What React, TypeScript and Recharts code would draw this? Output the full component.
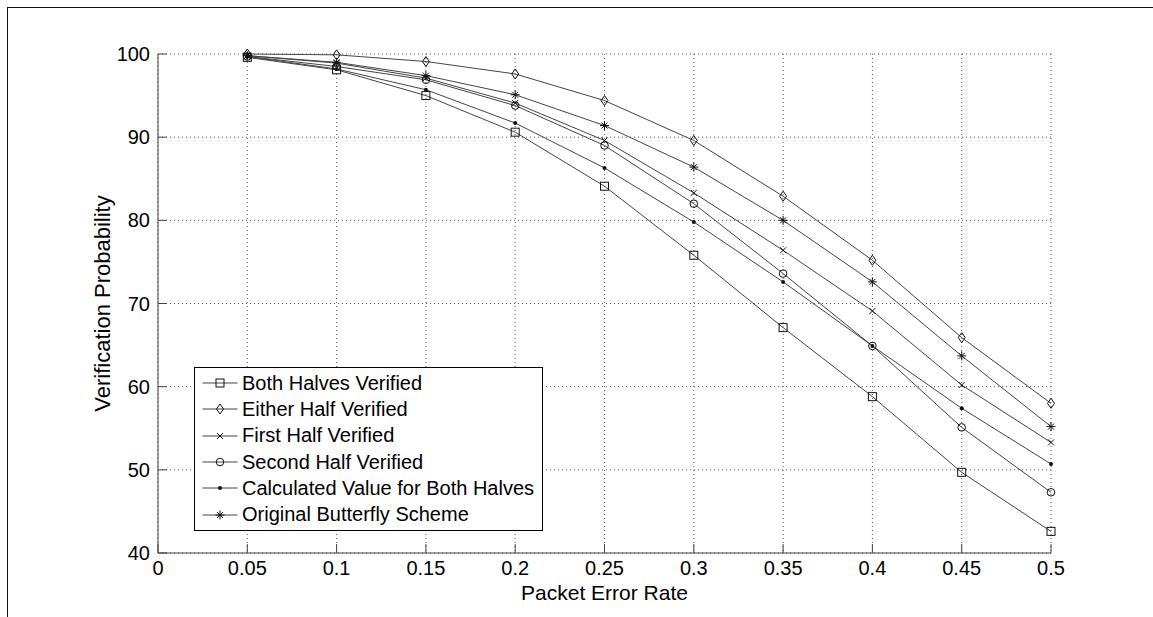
import { LineChart, Line, XAxis, YAxis, CartesianGrid, Legend } from 'recharts'

// packet error rate on the x axis
const PER = [0.05, 0.1, 0.15, 0.2, 0.25, 0.3, 0.35, 0.4, 0.45, 0.5]

// verification probability (%) per scheme
const BOTH_HALVES   = [99.6, 98.1, 95.0, 90.6, 84.1, 75.8, 67.1, 58.8, 49.7, 42.6]
const EITHER_HALF   = [100, 99.9, 99.1, 97.6, 94.4, 89.6, 82.9, 75.2, 65.9, 58.0]
const FIRST_HALF    = [99.8, 98.9, 97.1, 94.1, 89.6, 83.3, 76.4, 69.1, 60.2, 53.3]
const SECOND_HALF   = [99.7, 98.5, 96.9, 93.8, 89.0, 82.0, 73.6, 64.9, 55.1, 47.3]
const CALCULATED    = [99.7, 98.2, 95.7, 91.7, 86.3, 79.8, 72.6, 64.9, 57.4, 50.7]
const ORIG_BUTTERFLY = [99.8, 99.0, 97.4, 95.1, 91.4, 86.4, 80.0, 72.6, 63.7, 55.2]

const X_TICKS = [0, 0.05, 0.1, 0.15, 0.2, 0.25, 0.3, 0.35, 0.4, 0.45, 0.5]
const Y_TICKS = [40, 50, 60, 70, 80, 90, 100]

const SERIES = [
  { key: 'both', name: 'Both Halves Verified', marker: 'square', values: BOTH_HALVES },
  { key: 'either', name: 'Either Half Verified', marker: 'diamond', values: EITHER_HALF },
  { key: 'first', name: 'First Half Verified', marker: 'x', values: FIRST_HALF },
  { key: 'second', name: 'Second Half Verified', marker: 'circle', values: SECOND_HALF },
  { key: 'calc', name: 'Calculated Value for Both Halves', marker: 'dot', values: CALCULATED },
  { key: 'orig', name: 'Original Butterfly Scheme', marker: 'star', values: ORIG_BUTTERFLY },
]

const data = PER.map((per, i) => {
  const row: Record<string, number> = { per }
  SERIES.forEach(s => { row[s.key] = s.values[i] })
  return row
})

const FONT = '"Liberation Sans", Arial, sans-serif'
const LINE_COLOR = '#444'
const MARK_COLOR = '#111'
const AXIS_COLOR = '#444'
const TICK = { fill: '#000', fontSize: 20 }
const MARGIN = { top: 54, right: 102, bottom: 0, left: 0 }

function Marker({ type, cx, cy }: { type: string; cx: number; cy: number }) {
  const s = { stroke: MARK_COLOR, strokeWidth: 1, fill: 'none' }
  switch (type) {
    case 'square':
      return <rect x={cx - 4} y={cy - 4} width={8} height={8} {...s} />
    case 'diamond':
      return <polygon points={`${cx},${cy - 5} ${cx + 3.5},${cy} ${cx},${cy + 5} ${cx - 3.5},${cy}`} {...s} />
    case 'x':
      return (
        <g {...s}>
          <line x1={cx - 3} y1={cy - 3} x2={cx + 3} y2={cy + 3} />
          <line x1={cx - 3} y1={cy + 3} x2={cx + 3} y2={cy - 3} />
        </g>
      )
    case 'circle':
      return <circle cx={cx} cy={cy} r={3.8} {...s} />
    case 'dot':
      return <circle cx={cx} cy={cy} r={2} fill={MARK_COLOR} stroke="none" />
    default:
      return (
        <g {...s}>
          <line x1={cx - 4.5} y1={cy} x2={cx + 4.5} y2={cy} />
          <line x1={cx} y1={cy - 4.5} x2={cx} y2={cy + 4.5} />
          <line x1={cx - 3} y1={cy - 3} x2={cx + 3} y2={cy + 3} />
          <line x1={cx - 3} y1={cy + 3} x2={cx + 3} y2={cy - 3} />
        </g>
      )
  }
}

const renderLegend = () => (
  <div style={{
    border: '1px solid #000', background: '#fff', padding: '2px 8px 2px 0',
    fontFamily: FONT, fontSize: 20, color: '#000', whiteSpace: 'nowrap',
  }}>
    {SERIES.map(s => (
      <div key={s.key} style={{ display: 'flex', alignItems: 'center', height: 26.3 }}>
        <svg width={47} height={26} style={{ flex: 'none' }}>
          <line x1={7.5} y1={13} x2={42.5} y2={13} stroke={LINE_COLOR} strokeWidth={1} />
          <Marker type={s.marker} cx={25} cy={13} />
        </svg>
        <span>{s.name}</span>
      </div>
    ))}
  </div>
)

const xTickFmt = (v: number) => String(v)
const blankFmt = () => ''

// eslint-disable-next-line @typescript-eslint/no-explicit-any
const xLabel = (p: any) => {
  const vb = p.viewBox
  return (
    <text x={vb.x + vb.width / 2} y={600} textAnchor="middle" fontSize={21} fill="#000">
      Packet Error Rate
    </text>
  )
}

// eslint-disable-next-line @typescript-eslint/no-explicit-any
const yLabel = (p: any) => {
  const vb = p.viewBox
  const cy = vb.y + vb.height / 2
  return (
    <text x={110} y={cy} transform={`rotate(-90 110 ${cy})`} textAnchor="middle" fontSize={22} fill="#000">
      Verification Probability
    </text>
  )
}

export default function App() {
  return (
    <div style={{ position: 'absolute', left: 0, top: 0, width: 1153, height: 617, background: '#fff', overflow: 'hidden' }}>
      <div style={{ position: 'absolute', left: 7, top: 7, right: -2, bottom: -2, borderTop: '1px solid #111', borderLeft: '1px solid #111' }} />
      <LineChart width={1153} height={617} data={data} margin={MARGIN} style={{ fontFamily: FONT }}>
        <CartesianGrid stroke="#555" strokeDasharray="1 3" />
        <XAxis
          dataKey="per"
          type="number"
          domain={[0, 0.5]}
          ticks={X_TICKS}
          tickFormatter={xTickFmt}
          tick={TICK}
          tickSize={-9}
          tickMargin={17}
          stroke={AXIS_COLOR}
          height={64}
          interval={0}
          label={xLabel}
        />
        <XAxis
          xAxisId="top"
          orientation="top"
          dataKey="per"
          type="number"
          domain={[0, 0.5]}
          ticks={X_TICKS}
          tickFormatter={blankFmt}
          tickSize={-9}
          stroke={AXIS_COLOR}
          height={0}
          interval={0}
        />
        <YAxis
          type="number"
          domain={[40, 100]}
          ticks={Y_TICKS}
          tick={TICK}
          tickSize={-9}
          tickMargin={17}
          stroke={AXIS_COLOR}
          width={158}
          interval={0}
          label={yLabel}
        />
        <YAxis
          yAxisId="right"
          orientation="right"
          type="number"
          domain={[40, 100]}
          ticks={Y_TICKS}
          tickFormatter={blankFmt}
          tickSize={-9}
          stroke={AXIS_COLOR}
          width={0}
          interval={0}
        />
        {SERIES.map(s => (
          <Line
            key={s.key}
            dataKey={s.key}
            name={s.name}
            type="linear"
            stroke={LINE_COLOR}
            strokeWidth={1}
            // eslint-disable-next-line @typescript-eslint/no-explicit-any
            dot={(p: any) => <Marker key={`${s.key}-${p.index}`} type={s.marker} cx={p.cx} cy={p.cy} />}
            activeDot={false}
            isAnimationActive={false}
          />
        ))}
        <Legend
          content={renderLegend}
          layout="vertical"
          align="center"
          verticalAlign="middle"
          wrapperStyle={{ left: 194, top: 367, width: 'auto', height: 'auto' }}
        />
      </LineChart>
    </div>
  )
}
